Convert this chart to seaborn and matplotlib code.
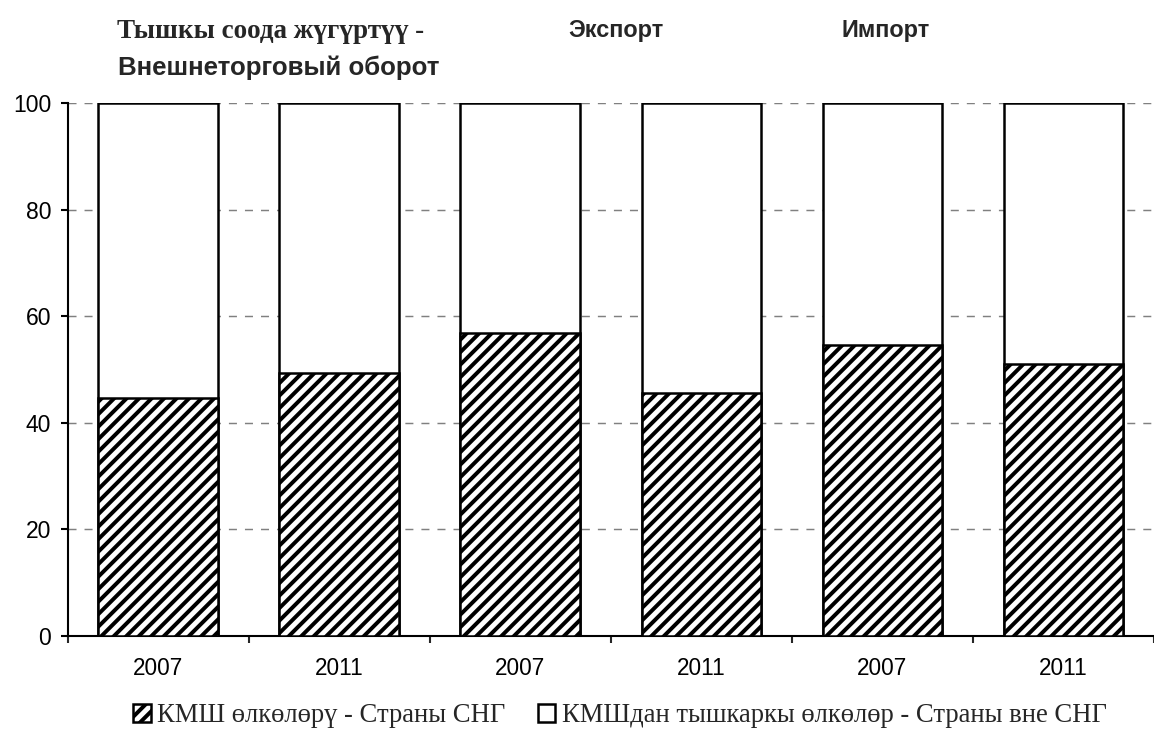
import matplotlib
matplotlib.use("Agg")
import matplotlib.pyplot as plt
import numpy as np
import seaborn as sns

# data (shares in %)
years = ["2007", "2011", "2007", "2011", "2007", "2011"]
cis_share = [44.6, 49.3, 56.8, 45.5, 54.6, 51.0]
total_share = [100, 100, 100, 100, 100, 100]
group_titles = ["Экспорт", "Импорт"]
legend_labels = ["КМШ өлкөлөрү - Страны СНГ",
                 "КМШдан тышкаркы өлкөлөр - Страны вне СНГ"]

sns.set_theme(style="ticks")
plt.rcParams["font.family"] = ["Liberation Sans", "DejaVu Sans"]
plt.rcParams["hatch.linewidth"] = 1.9
plt.rcParams["hatch.color"] = "black"

DPI = 150
W, H = 1154, 742
fig = plt.figure(figsize=(W / DPI, H / DPI), dpi=DPI)
ax = fig.add_axes([67.5 / W, (H - 636) / H, (W - 67.5) / W, 533 / H])

pos = np.arange(len(years))
sns.barplot(x=pos, y=total_share, color="white", saturation=1,
            edgecolor="black", linewidth=1.2, width=0.66, ax=ax, zorder=2)
sns.barplot(x=pos, y=cis_share, color="white", saturation=1,
            edgecolor="black", linewidth=1.2, width=0.66, hatch="////",
            ax=ax, zorder=3)

ax.set_xlim(-0.5, -0.5 + (W - 67.5) / 183)
ax.set_ylim(0, 100)
ax.set_yticks([0, 20, 40, 60, 80, 100])
ax.set_xticks(pos)
ax.set_xticklabels(years)
ax.set_xticks(np.arange(-0.5, 6, 1), minor=True)
ax.set_xlabel("")
ax.set_ylabel("")

for y in [20, 40, 60, 80, 100]:
    ax.axhline(y, color="#808080", lw=0.7, dashes=(5.5, 5.5), zorder=1)

ax.tick_params(axis="y", length=3.4, width=1, pad=4.5, labelsize=11,
               colors="black")
ax.tick_params(axis="x", which="major", length=0, pad=10, labelsize=10.8,
               colors="black")
ax.tick_params(axis="x", which="minor", length=3.4, width=1)
for s in ["top", "right"]:
    ax.spines[s].set_visible(False)
for s in ["left", "bottom"]:
    ax.spines[s].set_linewidth(1.0)
    ax.spines[s].set_color("black")

# group headings
fig.text(117 / W, 1 - 38 / H, "Тышкы соода жүгүртүү -", ha="left",
         va="baseline", fontsize=13, fontweight="bold",
         family=["Liberation Serif", "DejaVu Serif"])
fig.text(118 / W, 1 - 75 / H, "Внешнеторговый оборот", ha="left",
         va="baseline", fontsize=12.4, fontweight="bold")
fig.text(616 / W, 1 - 37 / H, group_titles[0], ha="center", va="baseline",
         fontsize=11.3, fontweight="bold")
fig.text(886 / W, 1 - 37 / H, group_titles[1], ha="center", va="baseline",
         fontsize=11.3, fontweight="bold")

handles = [ax.containers[1][0], ax.containers[0][0]]
fig.legend(handles, legend_labels, loc="center",
           bbox_to_anchor=(620 / W, (H - 716) / H), ncol=2, frameon=False,
           handlelength=0.65, handleheight=0.65, handletextpad=0.25,
           columnspacing=1.2,
           prop={"family": ["Liberation Serif", "DejaVu Serif"], "size": 12.8})

fig.savefig("out.png", dpi=DPI)
